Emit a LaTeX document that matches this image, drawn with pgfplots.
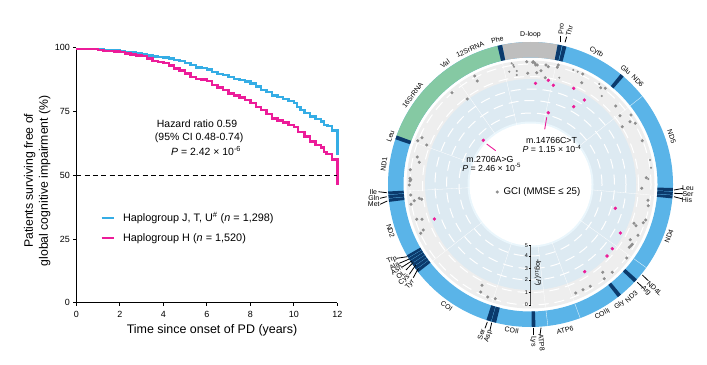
\documentclass[border=0pt]{standalone}
\usepackage{fontspec}
\setmainfont{Liberation Sans}
\usepackage{pgfplots}
\pgfplotsset{compat=1.18}
\definecolor{cblue}{HTML}{35ADE5}
\definecolor{cpink}{HTML}{EC1C99}
\definecolor{rblue}{HTML}{5AB4E8}
\definecolor{rgreen}{HTML}{85C9A3}
\definecolor{rgrey}{HTML}{BEBEBE}
\definecolor{rdark}{HTML}{0B3A6C}
\definecolor{dgrey}{HTML}{EEEEEE}
\definecolor{dblue}{HTML}{DDEAF2}
\definecolor{dhalo}{HTML}{EAF6FC}
\definecolor{pgrey}{HTML}{8E8E8E}
\def\cx{530.5}
\def\cy{184.5}
\newcommand\seg[5]{\fill[#5] (axis cs:{\cx+#4*sin(#1)},{\cy-#4*cos(#1)}) arc[start angle={90-#1},end angle={90-#2},radius=#4 bp] -- (axis cs:{\cx+#3*sin(#2)},{\cy-#3*cos(#2)}) arc[start angle={90-#2},end angle={90-#1},radius=#3 bp] -- cycle;}
\newcommand\disc[2]{\fill[#2] (axis cs:\cx,\cy) circle[radius=#1 bp];}
\newcommand\dring[1]{\draw[white,line width=1bp,dash pattern=on 10bp off 6bp] (axis cs:\cx,\cy) circle[radius=#1 bp];}
\newcommand\rad[1]{\draw[white,line width=0.3bp] (axis cs:{\cx+61*sin(#1)},{\cy-61*cos(#1)}) -- (axis cs:{\cx+124*sin(#1)},{\cy-124*cos(#1)});}
\newcommand\sep[1]{\draw[white!80!rblue,line width=0.4bp] (axis cs:{\cx+127*sin(#1)},{\cy-127*cos(#1)}) -- (axis cs:{\cx+142.5*sin(#1)},{\cy-142.5*cos(#1)});}
\newcommand\tlab[4]{\node[rotate=#4,font=\fontsize{7}{8}\selectfont,inner sep=0pt] at (axis cs:{\cx+#2*sin(#1)},{\cy-#2*cos(#1)}) {#3};}
\newcommand\plab[4]{\node[rotate=#4,font=\fontsize{7}{8}\selectfont,inner sep=0pt] at (axis cs:#1,#2) {#3};}
\newcommand\lead[4]{\draw[black,line width=0.8bp] (axis cs:#1,#2) -- (axis cs:#3,#4);}
\begin{document}
\begin{tikzpicture}
\useasboundingbox (0,0) rectangle (707bp,365bp);
\begin{axis}[
  at={(76.3bp,62.3bp)},anchor=south west,scale only axis,width=261bp,height=255bp,
  xmin=0,xmax=12,ymin=0,ymax=100,clip=false,
  axis lines=left,axis line style={-,line width=0.7bp},
  xtick={0,2,4,6,8,10,12},ytick={0,25,50,75,100},
  tick align=outside,major tick length=3bp,tick style={black,line width=0.7bp},
  /pgf/number format/assume math mode=true,
  tick label style={font=\fontsize{9}{11}\selectfont},
  xticklabel style={yshift=-2bp},
  xlabel={Time since onset of PD (years)},
  xlabel style={font=\fontsize{12.5}{14}\selectfont,at={(axis description cs:0.52,-0.107)},anchor=center},
  ylabel={Patients surviving free of\\global cognitive impairment (\%)},
  ylabel style={font=\fontsize{12.3}{15}\selectfont,align=center,at={(axis description cs:-0.15,0.478)},anchor=center},
  legend style={draw=none,fill=none,at={(axis description cs:0.08,0.294)},anchor=west,
    font=\fontsize{10.9}{12}\selectfont,row sep=6bp,
    /tikz/every even column/.append style={column sep=10bp}},
  legend cell align=left,
  legend image code/.code={\draw[#1,line width=2.4bp] (0bp,0bp) -- (12.3bp,0bp);},
]
\addplot[cblue,line width=2.4bp,const plot,line join=miter] coordinates {
(0,99.6)(0.5,99.5)(1,99.4)(1.25,99.1)(1.5,99.0)(1.75,98.9)(2,98.7)(2.25,98.4)(2.5,98.1)(2.75,97.8)(3,97.5)(3.25,97.0)(3.5,96.6)(3.75,96.4)(4,96.2)(4.25,95.7)(4.5,95.2)(4.75,94.7)(5,94.0)(5.25,93.1)(5.5,92.2)(5.75,92.0)(6,91.5)(6.25,90.5)(6.5,89.7)(6.75,89.2)(7,88.6)(7.25,87.8)(7.5,87.3)(7.75,86.7)(8,86.0)(8.25,84.8)(8.5,83.4)(8.75,82.6)(9,81.2)(9.25,80.6)(9.5,79.9)(9.75,79.2)(10,78.2)(10.15,76.8)(10.3,75.6)(10.5,74.4)(10.75,73.0)(11,72.0)(11.25,71.0)(11.4,69.8)(11.55,69.3)(11.7,69.2)(11.75,67.5)(12,67.5)(12,62)(12,58)};
\addlegendentry{\hspace*{6bp}Haplogroup J, T, U\textsuperscript{\#} (\textit{n} = 1,298)}
\addplot[cpink,line width=2.4bp,const plot,line join=miter] coordinates {
(0,99.5)(0.5,99.4)(1,99.2)(1.25,98.8)(1.5,98.6)(1.75,98.5)(2,98.3)(2.25,97.8)(2.5,97.3)(2.75,97.0)(3,96.7)(3.25,95.8)(3.5,94.9)(3.75,94.5)(4,94.1)(4.25,93.0)(4.5,91.9)(4.75,91.0)(5,89.9)(5.25,88.4)(5.5,87.8)(5.75,87.6)(6,87.0)(6.25,85.4)(6.5,84.4)(6.75,83.5)(7,82.1)(7.25,81.2)(7.5,80.5)(7.75,79.6)(8,78.4)(8.25,76.8)(8.5,75.6)(8.75,74.0)(9,72.3)(9.25,71.4)(9.5,70.6)(9.75,69.8)(10,68.8)(10.2,67.0)(10.5,65.1)(10.75,63.2)(11,61.8)(11.25,60.9)(11.4,59.0)(11.5,58.3)(11.7,58.2)(11.75,56.2)(12,56.2)(12,51)(12,46)};
\addlegendentry{\hspace*{6bp}Haplogroup H (\textit{n} = 1,520)}
\addplot[black,line width=1bp,dash pattern=on 5bp off 3.3bp,forget plot] coordinates {(0,50)(12,50)};
\node[font=\fontsize{10.5}{12}\selectfont] at (axis cs:5.55,70.2) {Hazard ratio 0.59};
\node[font=\fontsize{10.5}{12}\selectfont] at (axis cs:5.65,64.7) {(95\% CI 0.48-0.74)};
\node[font=\fontsize{10.5}{12}\selectfont] at (axis cs:5.97,59.6) {\textit{P} = 2.42 × 10\textsuperscript{-6}};
\end{axis}
\begin{axis}[
  at={(0bp,0bp)},anchor=south west,scale only axis,width=707bp,height=365bp,
  xmin=0,xmax=707,ymin=0,ymax=365,y dir=reverse,hide axis,clip=false,
]
\disc{124}{dgrey}
\disc{105.5}{dblue}
\disc{63}{dhalo}
\disc{61}{white}
\rad{51.7}\rad{125.7}\rad{159.6}\rad{173}\rad{198}\rad{232}\rad{267}\rad{290}\rad{325}\rad{347}\rad{12}\rad{95}
\dring{120.5}\dring{108}\dring{95.5}\dring{84}\dring{71.5}
\seg{0}{360}{127}{142.5}{rblue}
\seg{290}{346.6}{127}{142.5}{rgreen}
\seg{348.5}{371}{127}{142.5}{rgrey}
\seg{346.6}{348.5}{127}{142.5}{rdark}
\seg{371}{372.7}{127}{142.5}{rdark}
\seg{373}{374.6}{127}{142.5}{rdark}
\seg{39.2}{40.8}{127}{142.5}{rdark}
\seg{91.4}{92.7}{127}{142.5}{rdark}
\seg{92.9}{94.2}{127}{142.5}{rdark}
\seg{94.4}{95.6}{127}{142.5}{rdark}
\seg{131.7}{133.3}{127}{142.5}{rdark}
\seg{140.6}{142.2}{127}{142.5}{rdark}
\seg{178}{179.5}{127}{142.5}{rdark}
\seg{194}{195.9}{127}{142.5}{rdark}
\seg{196.1}{198}{127}{142.5}{rdark}
\seg{232}{233.3}{127}{142.5}{rdark}
\seg{233.5}{234.8}{127}{142.5}{rdark}
\seg{235}{236.2}{127}{142.5}{rdark}
\seg{236.4}{237.6}{127}{142.5}{rdark}
\seg{237.8}{238.9}{127}{142.5}{rdark}
\seg{239.1}{240.2}{127}{142.5}{rdark}
\seg{263}{264.3}{127}{142.5}{rdark}
\seg{264.5}{265.8}{127}{142.5}{rdark}
\seg{266}{267.2}{127}{142.5}{rdark}
\seg{288.5}{290.1}{127}{142.5}{rdark}
\sep{51.7}\sep{125.7}\sep{159.6}\sep{173}
\tlab{-12.9}{149}{Phe}{12.9}
\tlab{0}{150}{D-loop}{0}
\tlab{26.4}{148}{Cytb}{-26.4}
\tlab{39.8}{149}{Glu}{-39.8}
\tlab{46}{149}{ND6}{-46}
\tlab{71.3}{149}{ND5}{-71.3}
\tlab{110.5}{148}{ND4}{69.5}
\tlab{138}{151}{ND3}{42}
\tlab{143.5}{149.5}{Gly}{36.5}
\tlab{151}{148}{COIII}{29}
\tlab{166.7}{150}{ATP6}{13.3}
\tlab{187.3}{147}{COII}{-7.3}
\tlab{214.6}{147.6}{COI}{-34.6}
\tlab{251.6}{147.5}{ND2}{-71.6}
\tlab{278}{148}{ND1}{82}
\tlab{289}{148}{Leu}{71}
\tlab{307.2}{148}{16SrRNA}{52.8}
\tlab{324.7}{148}{Val}{35.3}
\tlab{335.9}{148}{12SrRNA}{24.1}
\lead{560.7}{42.3}{560.7}{36}\plab{561.2}{29}{Pro}{88}
\lead{565}{42.3}{566.7}{36.7}\plab{569.3}{30.5}{Thr}{75}
\lead{533.3}{327.7}{533.3}{335}\plab{533.3}{341.5}{Lys}{-90}
\lead{541}{327.7}{540}{335}\plab{541.5}{342.5}{ATP8}{-85}
\lead{487.3}{322}{485}{328.3}\plab{481.3}{334.5}{Ser}{72}
\lead{491.7}{322.7}{490}{330}\plab{488.3}{336.5}{Asp}{72}
\lead{396.7}{258.3}{407.3}{256.7}\plab{392}{260}{Trp}{25}
\lead{399.3}{263.3}{409.3}{259}\plab{394.3}{265.7}{Ala}{28}
\lead{402.3}{267}{411.7}{261}\plab{396.7}{269.8}{Asn}{33}
\lead{406}{270}{413.3}{262.3}\plab{400.7}{274.8}{OL}{38}
\lead{409.3}{274.3}{415.7}{265}\plab{404.3}{280}{Cys}{42}
\lead{413.3}{277.7}{418.3}{268.3}\plab{410}{284.3}{Tyr}{48}
\lead{378.3}{191.7}{386.7}{192.7}\plab{373.3}{192.3}{Ile}{0}
\lead{380}{198.3}{386.7}{196.7}\plab{373.8}{198.3}{Gln}{0}
\lead{380}{204.3}{387.3}{201}\plab{373.8}{204.3}{Met}{0}
\lead{683.3}{188.3}{674}{190}\plab{688}{187.7}{Leu}{0}
\lead{683.3}{193.7}{674}{193.3}\plab{688}{194}{Ser}{0}
\lead{682.7}{199}{674}{196.7}\plab{687}{199.7}{His}{0}
\lead{642.3}{275}{648.3}{280.7}\plab{654.5}{288.5}{ND4L}{-42}
\lead{637.3}{282.3}{642.7}{287.3}\plab{646}{290.7}{Arg}{-45}
\draw[black!70,line width=0.7bp] (axis cs:530.7,245.7) -- (axis cs:530.7,305);
\draw[black,line width=0.5bp] (axis cs:528.5,245.7) -- (axis cs:530.7,245.7);
\draw[black,line width=0.5bp] (axis cs:528.5,256) -- (axis cs:530.7,256);
\draw[black,line width=0.5bp] (axis cs:528.5,268.3) -- (axis cs:530.7,268.3);
\draw[black,line width=0.5bp] (axis cs:528.5,280) -- (axis cs:530.7,280);
\draw[black,line width=0.5bp] (axis cs:528.5,292.3) -- (axis cs:530.7,292.3);
\draw[black,line width=0.5bp] (axis cs:528.5,305) -- (axis cs:530.7,305);
\node[font=\fontsize{5.5}{6}\selectfont,inner sep=0pt] at (axis cs:526.5,245.7) {5};
\node[font=\fontsize{5.5}{6}\selectfont,inner sep=0pt] at (axis cs:526.5,256) {4};
\node[font=\fontsize{5.5}{6}\selectfont,inner sep=0pt] at (axis cs:526.5,268.3) {3};
\node[font=\fontsize{5.5}{6}\selectfont,inner sep=0pt] at (axis cs:526.5,280) {2};
\node[font=\fontsize{5.5}{6}\selectfont,inner sep=0pt] at (axis cs:526.5,292.3) {1};
\node[font=\fontsize{5.5}{6}\selectfont,inner sep=0pt] at (axis cs:526.5,305) {0};
\node[rotate=-90,font=\fontsize{7}{8}\selectfont,inner sep=0pt] at (axis cs:538,272.5) {-log\textsubscript{10}(\textit{P})};
\addplot[only marks,mark=*,mark size=1.35bp,pgrey,mark options={draw=none,fill=pgrey}] coordinates {
(474.7,76)(477.3,81)(452,92.7)(467.3,99)(417.7,140.7)(422,137.7)(426.7,145)(417.3,157)(419.3,162.3)(410.3,169.7)(410,178.3)
(526.7,61.7)(533.3,61.7)(535.7,65)(527.7,73.3)(536.7,72.7)(532.7,62.3)(535,63.3)(537.3,65)(546,65)(548.3,66.7)(558.3,65)(557.3,67.3)(541,70.7)(545.3,77.7)
(582.7,74)(581.7,82.7)(605.3,88.3)(600.7,87.7)(615.7,106)(620,115.7)(631,115)(630,121.7)(635.3,123.3)(622.3,126.7)(642.3,140.7)
(410.7,179.7)(410,181)(409.3,185)(410.7,195)(419.3,198.3)(421.7,199.3)(414.3,200.7)(411,204.3)(416.7,219.3)(422,219.3)(423.3,230)(420.7,233.3)
(482,285.3)(480.7,292)(487.7,297)(495.3,298.7)
(646.3,177.7)(641.7,188.3)(648,200.3)(648.3,205.7)(634,223.3)(636,225.7)(643.3,222.7)(645.7,220)(638,235.3)(630.3,239.7)(632.3,244.3)(631,245.7)(629.3,247.3)(626.7,258)(602.7,272.3)(612.3,272.3)(604.3,278.7)(590.3,286.3)(583,289.7)(575.7,293)};
\addplot[only marks,mark=*,mark size=0.8bp,pgrey,mark options={draw=none,fill=pgrey}] coordinates {
(511.7,63.3)(513.3,65)(514,66.7)(516.7,71)(516.7,75)(509.3,71.7)(559.3,77.7)(573.3,70)(577.7,71.7)(599.3,84)(601.7,96)(650,160)(651,167.7)(648.3,179)};
\addplot[only marks,mark=*,mark size=1.5bp,cpink,mark options={draw=none,fill=cpink}] coordinates {
(535.5,83.3)(483.3,140.3)(548.3,80.3)(553.3,85.3)(573.7,88.3)(584.3,100)(573.7,106.7)(548.3,112.7)(434.3,219)(615.3,208.3)(620.3,233)(612.3,248.7)(607,256)(584.7,271.7)};
\draw[cpink,line width=0.9bp] (axis cs:546.7,117.3) -- (axis cs:544.7,129.3);
\draw[cpink,line width=0.9bp] (axis cs:486.7,144) -- (axis cs:495.7,150.7);
\node[font=\fontsize{8.8}{10}\selectfont] at (axis cs:551.5,140) {m.14766C>T};
\node[font=\fontsize{8.8}{10}\selectfont] at (axis cs:552,149) {\textit{P} = 1.15 × 10\textsuperscript{-4}};
\node[font=\fontsize{8.8}{10}\selectfont] at (axis cs:490,159) {m.2706A>G};
\node[font=\fontsize{8.8}{10}\selectfont] at (axis cs:491.7,167.7) {\textit{P} = 2.46 × 10\textsuperscript{-5}};
\addplot[only marks,mark=*,mark size=1.35bp,pgrey,mark options={draw=none,fill=pgrey}] coordinates {(497.3,192)};
\node[font=\fontsize{9.7}{11}\selectfont,anchor=west,inner sep=0pt] at (axis cs:503.3,192) {GCI (MMSE ≤ 25)};
\end{axis}
\end{tikzpicture}
\end{document}
